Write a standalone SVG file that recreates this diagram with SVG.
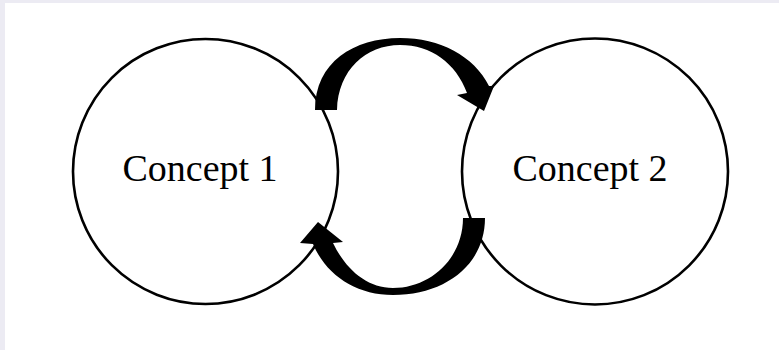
<svg xmlns="http://www.w3.org/2000/svg" width="779" height="350" viewBox="0 0 779 350">
  <style>
    .ring { fill: #ffffff; stroke: #000000; stroke-width: 2.6; }
    .label { font-family: "Liberation Serif", "Times New Roman", serif; font-size: 38px; fill: #000000; }
    .curved { fill: #000000; stroke: none; }
  </style>

  <!-- page with soft edge shading -->
  <rect x="0" y="0" width="779" height="350" fill="#ecebf3"/>
  <rect x="5" y="3" width="774" height="347" fill="#ffffff"/>

  <g id="concept1">
    <circle class="ring" cx="205.5" cy="171.5" r="132.5"/>
    <text class="label" x="200" y="181" text-anchor="middle">Concept 1</text>
  </g>

  <g id="concept2">
    <circle class="ring" cx="595" cy="171.5" r="133"/>
    <text class="label" x="590" y="181" text-anchor="middle">Concept 2</text>
  </g>

  <g id="connectors">
    <!-- upper tapered arrow: Concept 1 to Concept 2 -->
    <path class="curved" d="M315,110 C315,62 354,38 400,38 C440,38 474,56 489,86 L494,86 L484,111 L457,95 L467,93 C456,63 431,45 400,45 C366,45 338,70 337,110 Z"/>
    <!-- lower tapered arrow: Concept 2 back to Concept 1 -->
    <path class="curved" d="M485,218 C485,265 445,295 393,295 C356,295 326,275 313,244 L300,243 L318,222 L343,242 L333,243 C345,268 366,288 393,288 C431,288 463,258 463,218 Z"/>
  </g>
</svg>
